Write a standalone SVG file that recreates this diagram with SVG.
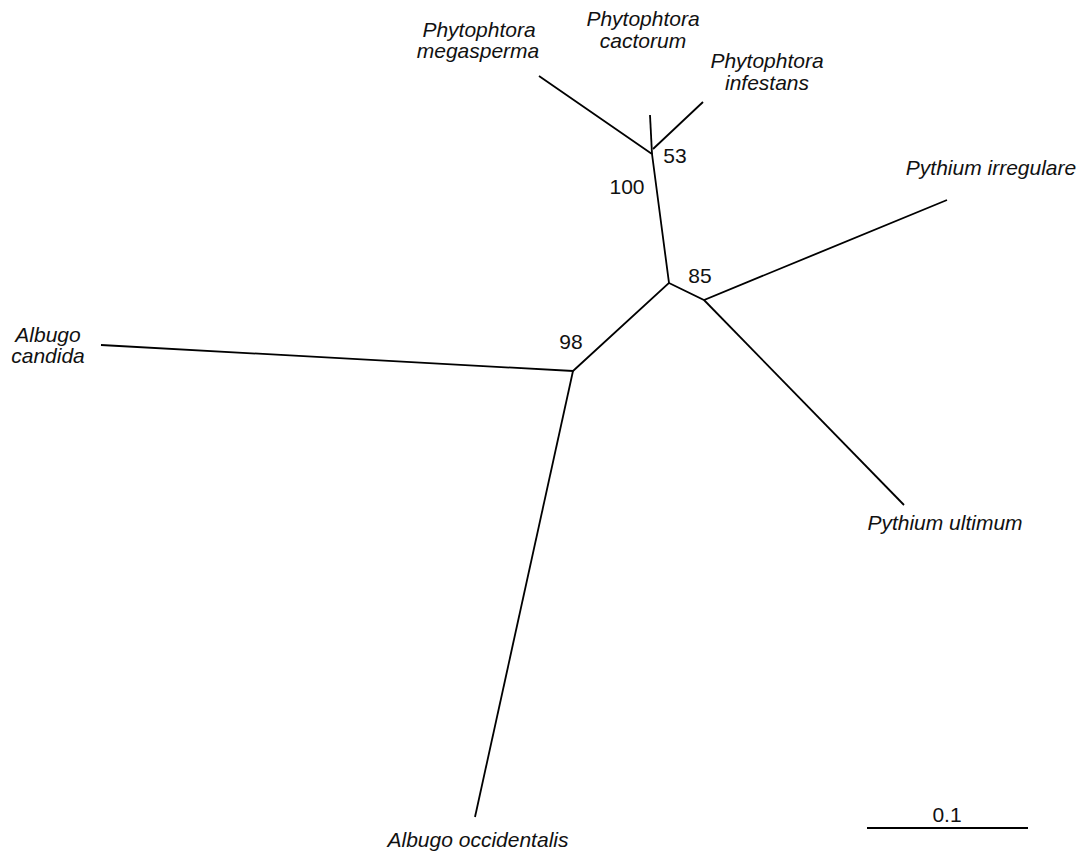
<svg xmlns="http://www.w3.org/2000/svg" width="1085" height="858" viewBox="0 0 1085 858">
<style>
.b{stroke:#000;stroke-width:1.8;fill:none;stroke-linecap:butt;stroke-linejoin:miter}
.t{font-family:"Liberation Sans",Arial,sans-serif;font-size:21px;font-style:italic;fill:#111}
.n{font-family:"Liberation Sans",Arial,sans-serif;font-size:21px;fill:#111}
</style>
<rect width="1085" height="858" fill="#fff"/>
<g id="connectors">
<polyline class="b" points="539,76 652,154 669,283 573,371 101,345"/>
<line class="b" x1="650" y1="115" x2="652" y2="154"/>
<line class="b" x1="703" y1="102" x2="653" y2="149"/>
<polyline class="b" points="669,283 704,300 947,200"/>
<line class="b" x1="704" y1="300" x2="904" y2="505"/>
<line class="b" x1="573" y1="371" x2="475" y2="817"/>
</g>
<g id="megasperma"><text class="t" x="479" y="37" text-anchor="middle">Phytophtora</text><text class="t" x="478" y="58" text-anchor="middle">megasperma</text></g>
<g id="cactorum"><text class="t" x="643" y="26" text-anchor="middle">Phytophtora</text><text class="t" x="643" y="48" text-anchor="middle">cactorum</text></g>
<g id="infestans"><text class="t" x="767" y="68" text-anchor="middle">Phytophtora</text><text class="t" x="767" y="90" text-anchor="middle">infestans</text></g>
<g id="irregulare"><text class="t" x="991" y="175" text-anchor="middle">Pythium irregulare</text></g>
<g id="ultimum"><text class="t" x="945" y="530" text-anchor="middle">Pythium ultimum</text></g>
<g id="candida"><text class="t" x="48" y="342" text-anchor="middle">Albugo</text><text class="t" x="48" y="363" text-anchor="middle">candida</text></g>
<g id="occidentalis"><text class="t" x="478" y="847" text-anchor="middle">Albugo occidentalis</text></g>
<g id="bootstrap">
<text class="n" x="675" y="163" text-anchor="middle">53</text>
<text class="n" x="627" y="194" text-anchor="middle">100</text>
<text class="n" x="700" y="283" text-anchor="middle">85</text>
<text class="n" x="571" y="349" text-anchor="middle">98</text>
</g>
<g id="scalebar">
<line class="b" x1="867" y1="828" x2="1028" y2="828"/>
<text class="n" x="947" y="822" text-anchor="middle">0.1</text>
</g>
</svg>
